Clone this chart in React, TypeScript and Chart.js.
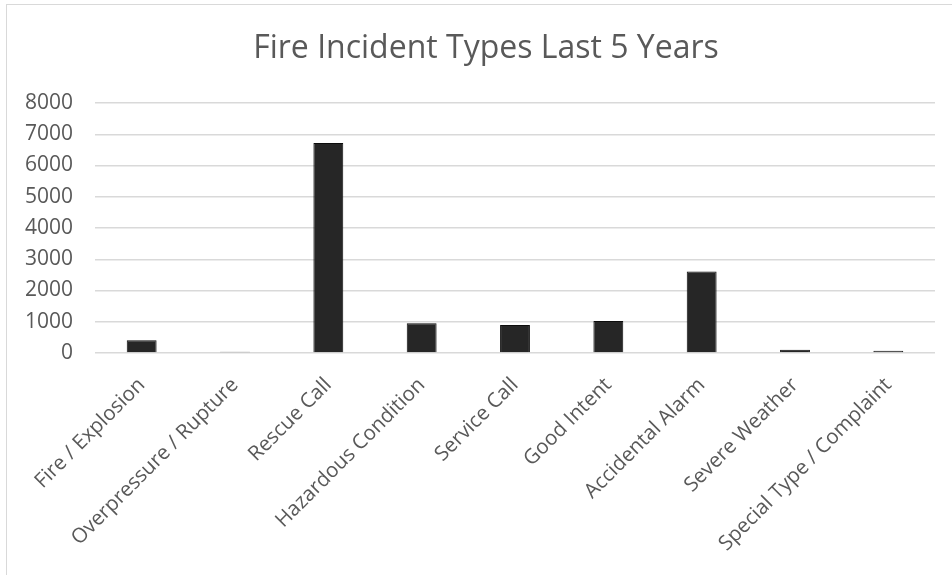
import React, { useEffect, useRef } from "react";
import { Chart, registerables } from "chart.js";

Chart.register(...registerables);

// Incident categories and five-year totals
const categories: string[] = [
  "Fire / Explosion",
  "Overpressure / Rupture",
  "Rescue Call",
  "Hazardous Condition",
  "Service Call",
  "Good Intent",
  "Accidental Alarm",
  "Severe Weather",
  "Special Type / Complaint",
];
const incidentCounts: number[] = [405, 40, 6720, 955, 900, 1025, 2610, 105, 75];

const chartTitle = "Fire Incident Types Last 5 Years";
const yMin = 0;
const yMax = 8000;
const yStep = 1000;

const FONT = "'Open Sans', 'DejaVu Sans', sans-serif";
const TEXT = "#595959";
const GRID = "#d9d9d9";

// Title centred on the whole chart frame (which is wider than the plot area)
const TITLE_CENTER_X = 486;
const TITLE_BASELINE_Y = 58;

const frameTitle = {
  id: "frameTitle",
  afterDraw(chart: any) {
    const ctx = chart.ctx as CanvasRenderingContext2D;
    ctx.save();
    ctx.font = `normal 32px ${FONT}`;
    ctx.fillStyle = TEXT;
    ctx.textAlign = "center";
    ctx.textBaseline = "alphabetic";
    ctx.fillText(chartTitle, TITLE_CENTER_X, TITLE_BASELINE_Y);
    ctx.restore();
  },
};

export default function App() {
  const canvasRef = useRef<HTMLCanvasElement | null>(null);

  useEffect(() => {
    document.body.style.margin = "0";
    const canvas = canvasRef.current;
    if (!canvas) return;
    const chart = new Chart(canvas, {
      type: "bar",
      data: {
        labels: categories,
        datasets: [
          {
            data: incidentCounts,
            backgroundColor: "#262626",
            borderColor: "#0d0d0d",
            borderWidth: 1,
            barPercentage: 0.32,
            categoryPercentage: 1,
          },
        ],
      },
      options: {
        animation: false,
        responsive: false,
        maintainAspectRatio: false,
        layout: { padding: { left: 0, right: 17, top: 103, bottom: 0 } },
        plugins: {
          legend: { display: false },
          tooltip: { enabled: false },
          title: { display: false },
        },
        scales: {
          x: {
            grid: { display: false, drawTicks: false },
            border: { display: false },
            ticks: {
              color: TEXT,
              font: { family: FONT, size: 20.5 },
              maxRotation: 45,
              minRotation: 45,
              autoSkip: false,
              padding: 20,
            },
            afterFit: (s: any) => {
              s.height = 222;
            },
          },
          y: {
            min: yMin,
            max: yMax,
            ticks: {
              stepSize: yStep,
              color: TEXT,
              font: { family: FONT, size: 21 },
              padding: 22,
              callback: (v: any) => String(v),
            },
            grid: { color: GRID, lineWidth: 1.5, drawTicks: false },
            border: { display: false },
            afterFit: (s: any) => {
              s.width = 95;
            },
          },
        },
      },
      plugins: [frameTitle],
    });
    return () => chart.destroy();
  }, []);

  return (
    <div
      style={{
        position: "relative",
        width: 952,
        height: 575,
        overflow: "hidden",
        background: "#ffffff",
      }}
    >
      <div
        style={{
          position: "absolute",
          left: 6,
          top: 4,
          width: 1000,
          height: 1000,
          border: "1px solid #d9d9d9",
          boxSizing: "border-box",
        }}
      />
      <canvas
        ref={canvasRef}
        width={952}
        height={575}
        style={{ position: "absolute", left: 0, top: 0, width: 952, height: 575 }}
      />
    </div>
  );
}
